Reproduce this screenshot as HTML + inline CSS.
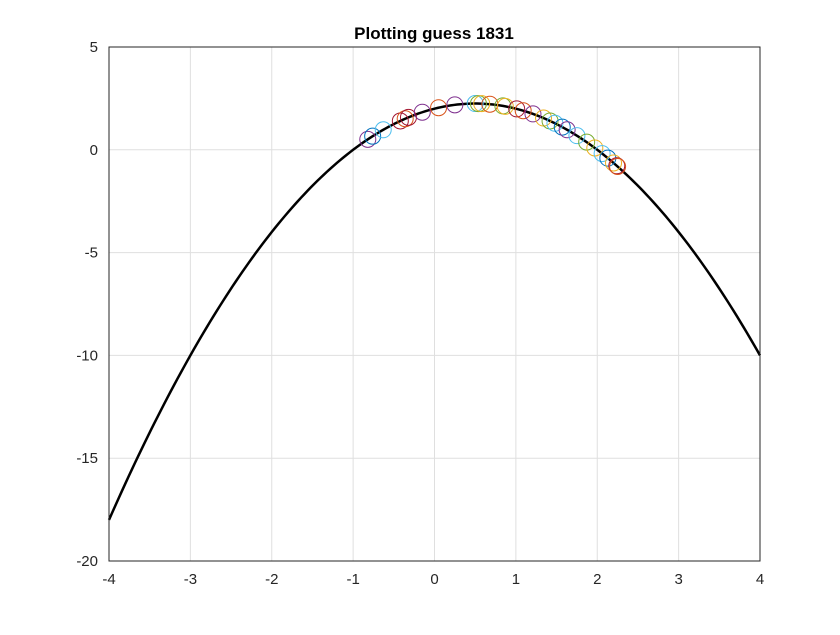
<!DOCTYPE html>
<html><head><meta charset="utf-8"><style>
body{margin:0;background:#fff;}
svg text{font-family:"Liberation Sans",Arial,sans-serif;fill:#262626;}
</style></head><body>
<svg id="chart" width="840" height="630">
<rect width="840" height="630" fill="#fff"/>
<g id="grid"></g>
<g id="ticks"></g>
<path id="curve" fill="none" stroke="#000" stroke-width="2.5"/>
<g id="marks"></g>
<rect x="109" y="47" width="651" height="514" fill="none" stroke="#262626" stroke-width="1"/>
<text x="434" y="39" text-anchor="middle" font-size="17" font-weight="bold" style="fill:#000">Plotting guess 1831</text>
</svg>
<script>
const xTicks=[-4,-3,-2,-1,0,1,2,3,4];
const yTicks=[-20,-15,-10,-5,0,5];
const guessX=[-0.82,-0.76,-0.63,-0.42,-0.36,-0.32,-0.15,0.05,0.25,0.5,0.54,0.58,0.68,0.84,0.87,1.01,1.09,1.21,1.34,1.42,1.48,1.57,1.63,1.75,1.87,1.97,2.06,2.13,2.2,2.24,2.25];
const coefA=-1, coefB=1, coefC=2;
const colors=["#7E2F8E","#0072BD","#4DBEEE","#A2142F","#D95319","#A2142F","#7E2F8E","#D95319","#7E2F8E","#4DBEEE","#77AC30","#EDB120","#D95319","#77AC30","#EDB120","#A2142F","#D95319","#7E2F8E","#EDB120","#77AC30","#4DBEEE","#0072BD","#7E2F8E","#4DBEEE","#77AC30","#EDB120","#4DBEEE","#0072BD","#EDB120","#A2142F","#D95319"];
const X=x=>109+(x+4)/8*651, Y=y=>561-(y+20)/25*514;
const ns="http://www.w3.org/2000/svg";
const grid=document.getElementById('grid'), tk=document.getElementById('ticks');
xTicks.forEach(t=>{
 const l=document.createElementNS(ns,'line');
 
 
 l.setAttribute('x1',X(t));l.setAttribute('x2',X(t));l.setAttribute('y1',47);l.setAttribute('y2',561);
 l.setAttribute('stroke','#dfdfdf');grid.appendChild(l);
 const s=document.createElementNS(ns,'text');
 
 
 s.setAttribute('x',X(t));s.setAttribute('y',584);s.setAttribute('text-anchor','middle');s.setAttribute('font-size','15');
 s.textContent=t;tk.appendChild(s);
});
yTicks.forEach(t=>{
 const l=document.createElementNS(ns,'line');
 
 
 l.setAttribute('x1',109);l.setAttribute('x2',760);l.setAttribute('y1',Y(t));l.setAttribute('y2',Y(t));
 l.setAttribute('stroke','#dfdfdf');grid.appendChild(l);
 const s=document.createElementNS(ns,'text');
 
 
 s.setAttribute('x',98);s.setAttribute('y',Y(t)+5);s.setAttribute('text-anchor','end');s.setAttribute('font-size','15');
 s.textContent=t;tk.appendChild(s);
});
const f=x=>coefA*x*x+coefB*x+coefC;
let d='';for(let i=0;i<=200;i++){const x=-4+8*i/200;d+=(i?'L':'M')+X(x).toFixed(2)+' '+Y(f(x)).toFixed(2);}
document.getElementById('curve').setAttribute('d',d);
const mk=document.getElementById('marks');
guessX.forEach((x,i)=>{
 const c=document.createElementNS(ns,'circle');
 
 
 c.setAttribute('cx',X(x));c.setAttribute('cy',Y(f(x)));c.setAttribute('r',8);
 c.setAttribute('fill','none');c.setAttribute('stroke',colors[i%colors.length]);c.setAttribute('stroke-width','1');
 mk.appendChild(c);
});
</script>
</body></html>
